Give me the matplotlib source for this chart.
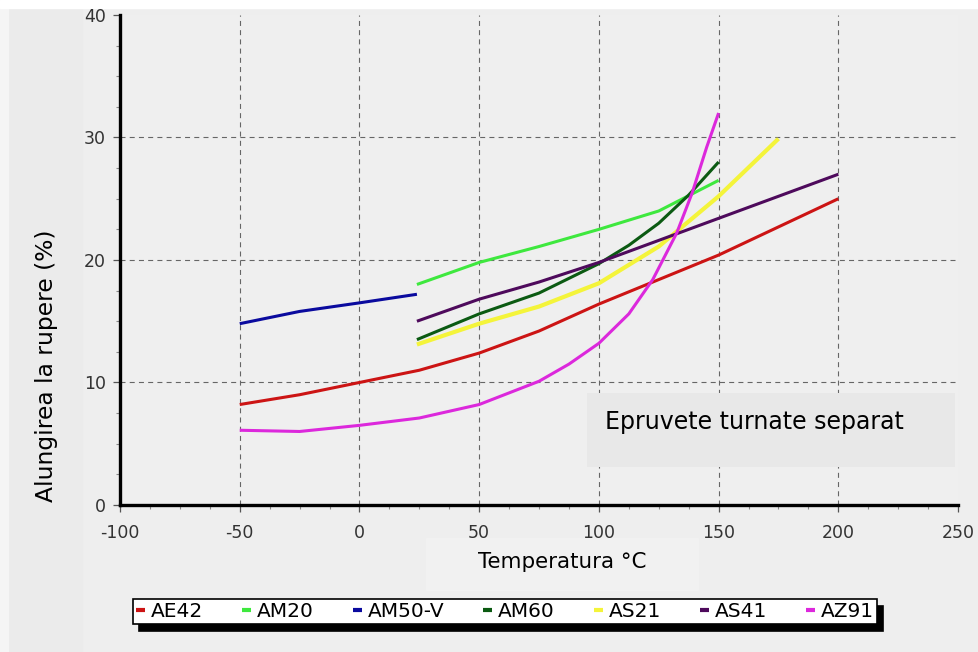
import matplotlib
matplotlib.use("Agg")
import matplotlib.pyplot as plt
from matplotlib.patches import Rectangle
from matplotlib.ticker import MultipleLocator

plt.rcParams["axes.unicode_minus"] = False

# Elongation at break (%) vs temperature (°C) for die-cast magnesium alloys
ae42_t = [-50, -25, 0, 25, 50, 75, 100, 125, 150, 175, 200]
ae42_e = [8.2, 9.0, 10.0, 11.0, 12.4, 14.2, 16.4, 18.4, 20.4, 22.7, 25.0]

am20_t = [24, 50, 75, 100, 125, 150]
am20_e = [18.0, 19.8, 21.1, 22.5, 24.0, 26.5]

am50v_t = [-50, -25, 0, 24]
am50v_e = [14.8, 15.8, 16.5, 17.2]

am60_t = [24, 50, 75, 100, 112.5, 125, 137.5, 150]
am60_e = [13.5, 15.6, 17.3, 19.7, 21.2, 23.0, 25.3, 28.0]

as21_t = [24, 50, 75, 100, 125, 150, 175]
as21_e = [13.1, 14.8, 16.2, 18.1, 21.1, 25.2, 29.9]

as41_t = [24, 50, 75, 100, 125, 150, 175, 200]
as41_e = [15.0, 16.8, 18.2, 19.8, 21.6, 23.4, 25.2, 27.0]

az91_t = [-50, -25, 0, 25, 50, 75, 87.5, 100, 112.5, 122.5, 132.5, 139, 145, 150]
az91_e = [6.1, 6.0, 6.5, 7.1, 8.2, 10.1, 11.5, 13.2, 15.6, 18.4, 22.2, 25.5, 29.2, 32.0]

series = [
    ("AE42", ae42_t, ae42_e, "#cc1414"),
    ("AM20", am20_t, am20_e, "#3ee83e"),
    ("AM50-V", am50v_t, am50v_e, "#0a0a9e"),
    ("AM60", am60_t, am60_e, "#0b5a12"),
    ("AS21", as21_t, as21_e, "#f4f43a"),
    ("AS41", as41_t, as41_e, "#4e0a5c"),
    ("AZ91", az91_t, az91_e, "#dc28dc"),
]

bg = "#eeeeee"
fig = plt.figure(figsize=(9.79, 6.52), dpi=100, facecolor=bg)
# background panels around the chart
fig.add_artist(Rectangle((8 / 979, 0), 74 / 979, 1, transform=fig.transFigure,
                         color="#ebebeb", zorder=0))
fig.add_artist(Rectangle((0, 0), 8 / 979, 1, transform=fig.transFigure,
                         color="#f5f5f5", zorder=0))
fig.add_artist(Rectangle((0, 1 - 8 / 652), 1, 8 / 652, transform=fig.transFigure,
                         color="white", zorder=0))
fig.add_artist(Rectangle((426 / 979, 1 - 590 / 652), 272 / 979, 52 / 652,
                         transform=fig.transFigure, color="#f1f1f1", zorder=0))

ax = fig.add_axes([0.1226, 0.2255, 0.856, 0.7515])
ax.set_facecolor("#efefef")

for name, t, e, c in series:
    lw = 3.0 if name == "AS21" else 2.2
    ax.plot(t, e, color=c, lw=lw, label=name, solid_capstyle="butt", zorder=3)

ax.set_xlim(-100, 250)
ax.set_ylim(0, 40)
ax.set_xticks(range(-100, 251, 50))
ax.set_yticks(range(0, 41, 10))
ax.xaxis.set_minor_locator(MultipleLocator(12.5))
ax.yaxis.set_minor_locator(MultipleLocator(2.5))

for side in ("top", "right"):
    ax.spines[side].set_visible(False)
for side in ("left", "bottom"):
    ax.spines[side].set_linewidth(2.4)
    ax.spines[side].set_color("black")

ax.tick_params(which="major", direction="out", length=5, width=0.9, color="#555555",
               labelsize=12.5, labelcolor="#333333")
ax.tick_params(axis="x", which="major", pad=9)
ax.tick_params(axis="y", which="major", pad=5)
ax.tick_params(which="minor", direction="out", length=3, width=0.8, color="#888888")

ax.grid(True, which="major", color="#666666", lw=0.8, linestyle=(0, (4.5, 3.8)))
# no grid lines on the axis limits
for tk in (ax.xaxis.get_major_ticks()[0], ax.xaxis.get_major_ticks()[-1],
           ax.yaxis.get_major_ticks()[0], ax.yaxis.get_major_ticks()[-1]):
    tk.gridline.set_visible(False)

# note box in the lower right of the plot
ax.add_patch(Rectangle((0.557, 0.078), 0.439, 0.151, transform=ax.transAxes,
                       facecolor="#e8e8e8", edgecolor="none", zorder=2.5))
ax.text(102.5, 6.8, "Epruvete turnate separat", fontsize=17, ha="left",
        va="center", zorder=4)

fig.text(47 / 979, 1 - 366 / 652, "Alungirea la rupere (%)", rotation=90,
         fontsize=16.8, ha="center", va="center")
fig.text(562 / 979, 1 - 562 / 652, "Temperatura °C", fontsize=15.4, ha="center",
         va="center")

leg = fig.legend(loc="lower left", bbox_to_anchor=(133 / 979, 28 / 652, 744 / 979, 32 / 652),
                 mode="expand", ncol=7, fontsize=14.5, handlelength=0.45,
                 handletextpad=0.3, borderpad=0.15, borderaxespad=0,
                 fancybox=False, frameon=True,
                 shadow={"ox": 4.5, "oy": -5, "color": "black", "alpha": 1})
frame = leg.get_frame()
frame.set_facecolor("white")
frame.set_edgecolor("black")
frame.set_linewidth(1.2)
frame.set_alpha(1)
for line in leg.get_lines():
    line.set_linewidth(3)

fig.savefig("out.png", dpi=100, facecolor=bg)
